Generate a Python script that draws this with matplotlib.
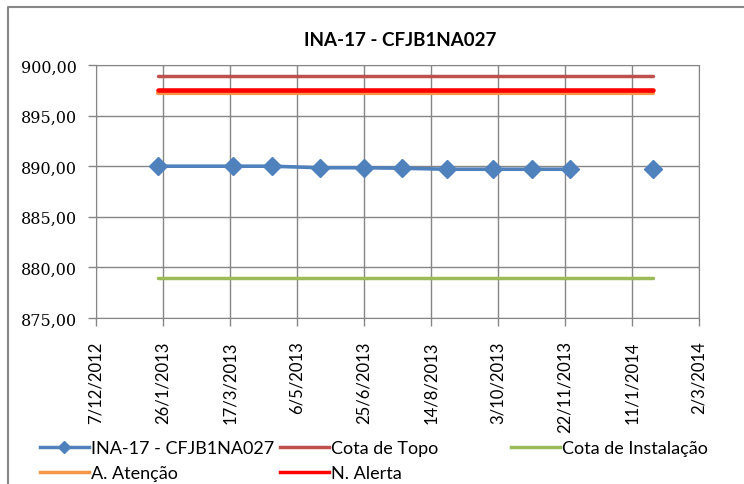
import datetime as dt

import numpy as np
import matplotlib
matplotlib.use("Agg")
import matplotlib.pyplot as plt
import matplotlib.dates as mdates
from matplotlib.lines import Line2D
from matplotlib.ticker import FuncFormatter, FixedLocator

# reading dates (empty cell between the last two -> gap in the line)
dates = [
    dt.date(2013, 1, 22), dt.date(2013, 3, 19), dt.date(2013, 4, 17),
    dt.date(2013, 5, 23), dt.date(2013, 6, 25), dt.date(2013, 7, 23),
    dt.date(2013, 8, 26), dt.date(2013, 9, 29), dt.date(2013, 10, 28),
    dt.date(2013, 11, 26), dt.date(2013, 12, 27), dt.date(2014, 1, 27),
]
ina_values = [890.0, 890.0, 890.0, 889.85, 889.85, 889.8,
              889.7, 889.7, 889.7, 889.7, np.nan, 889.7]

cota_topo = 898.9
cota_instalacao = 879.0
atencao = 897.25
alerta = 897.5

title = "INA-17 - CFJB1NA027"
tick_start = dt.date(2012, 12, 7)
tick_step_days = 50
n_ticks = 10

plt.rcParams["font.family"] = ["Lato", "DejaVu Sans"]

fig = plt.figure(figsize=(7.44, 4.85), dpi=100)
ax = fig.add_axes([96 / 744, 1 - 319 / 485, 603 / 744, 253 / 485])

# outer chart border (top and left edges visible)
fig.lines.append(Line2D([8 / 744, 8 / 744, 1.0], [0.0, 1 - 8 / 485, 1 - 8 / 485],
                        transform=fig.transFigure, color="#868686", linewidth=1.5))

x = mdates.date2num(dates)
valid = ~np.isnan(ina_values)
x_first, x_last = x[valid][0], x[valid][-1]

ax.plot([x_first, x_last], [cota_topo] * 2, color="#C0504D", linewidth=2.5,
        solid_capstyle="round")
ax.plot([x_first, x_last], [cota_instalacao] * 2, color="#9BBB59", linewidth=2.5,
        solid_capstyle="round")
ax.plot([x_first, x_last], [atencao] * 2, color="#F79646", linewidth=3,
        solid_capstyle="round")
ax.plot([x_first, x_last], [alerta] * 2, color="#FF0000", linewidth=3.3,
        solid_capstyle="round")
ax.plot(x, ina_values, color="#4F81BD", linewidth=2.6, marker="D",
        markersize=9.5, zorder=5)

ticks = [tick_start + dt.timedelta(days=tick_step_days * i) for i in range(n_ticks)]
ax.xaxis.set_major_locator(FixedLocator(mdates.date2num(ticks)))
ax.set_xticklabels([f"{d.day}/{d.month}/{d.year}" for d in ticks],
                   rotation=90, fontsize=12)
ax.set_xlim(mdates.date2num(ticks[0]), mdates.date2num(ticks[-1]))

ax.set_ylim(875, 900)
ax.set_yticks(np.arange(875, 901, 5))
ax.yaxis.set_major_formatter(FuncFormatter(lambda v, p: f"{v:.2f}".replace(".", ",")))

ax.grid(True, color="#868686", linewidth=1)
ax.set_axisbelow(True)
for s in ax.spines.values():
    s.set_color("#868686")
ax.tick_params(axis="both", direction="out", length=6, color="#868686", width=1)
ax.tick_params(axis="x", pad=10)
ax.tick_params(axis="y", pad=8, labelsize=11.5, labelfontfamily="DejaVu Serif")

fig.text(0.5375, 1 - 40 / 485, title, ha="center", va="center",
         fontsize=13.5, fontweight="bold")

h_ina = Line2D([], [], color="#4F81BD", linewidth=2.5, marker="D", markersize=6)
h_topo = Line2D([], [], color="#C0504D", linewidth=2.5)
h_inst = Line2D([], [], color="#9BBB59", linewidth=2.5)
h_aten = Line2D([], [], color="#F79646", linewidth=2.5)
h_alerta = Line2D([], [], color="#FF0000", linewidth=2.5)

groups = [
    ([h_ina, h_aten], [title, "A. Atenção"], 40),
    ([h_topo, h_alerta], ["Cota de Topo", "N. Alerta"], 280),
    ([h_inst], ["Cota de Instalação"], 511),
]
for handles, labels, xpx in groups:
    fig.legend(handles, labels, loc="upper left",
               bbox_to_anchor=(xpx / 744, 1 - 441 / 485), frameon=False,
               fontsize=13, handlelength=2.7, handletextpad=0.15,
               labelspacing=0.52, borderaxespad=0, borderpad=0)

fig.savefig("out.png", dpi=100)
